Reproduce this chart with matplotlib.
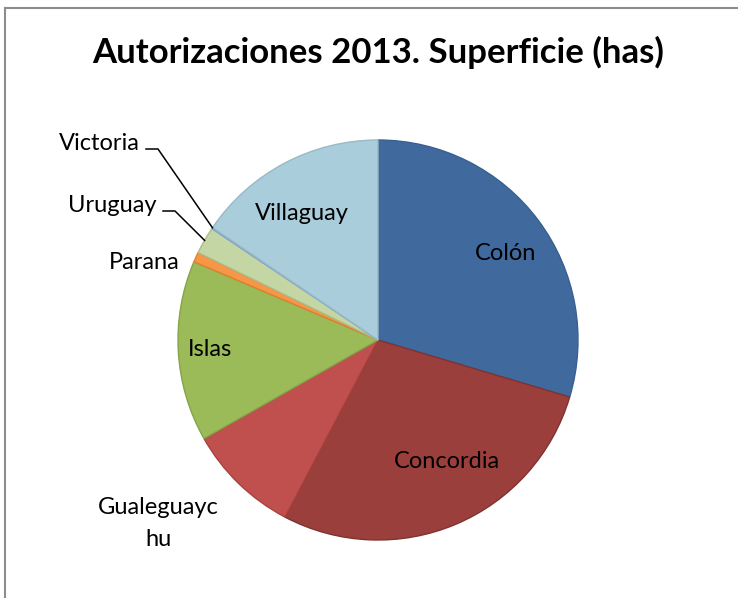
import numpy as np
import matplotlib
matplotlib.use('Agg')
from matplotlib import pyplot as plt

# share of area per department (approx)
labels = ['Colón', 'Concordia', 'Gualeguaychu', 'Islas', 'Parana',
          'Uruguay', 'Victoria', 'Villaguay']
values = [29.6, 28.1, 9.1, 14.6, 0.8, 2.2, 0.1, 15.5]
colors = ['#40699e', '#9b3f3d', '#c0504d', '#9bbb59', '#f79646',
          '#c4d6a4', '#8eb4e3', '#a9cddb']
edges = ['#38608f', '#7f3331', '#a9413f', '#86a44a', '#e07f30',
         '#aabd8a', '#7fa3cf', '#98b9c6']

plt.rcParams['font.family'] = ['Lato', 'DejaVu Sans']
FS = 17

fig = plt.figure(figsize=(7.38, 5.98), dpi=100)
ax = fig.add_axes([178 / 738, 1 - 540 / 598, 400 / 738, 400 / 598])
wedges, _ = ax.pie(values, colors=colors, startangle=90, counterclock=False,
                   radius=1, wedgeprops=dict(linewidth=1))
for w, e in zip(wedges, edges):
    w.set_edgecolor(e)
ax.set_xlim(-1, 1)
ax.set_ylim(-1, 1)
ax.set_aspect('equal')
ax.axis('off')


def mid(w):
    return np.deg2rad((w.theta1 + w.theta2) / 2)


def place(w, r, shift):
    a = mid(w) + np.deg2rad(shift)
    return r * np.cos(a), r * np.sin(a)


# labels inside the slices: (radius, angle shift)
inside = {'Colón': (0.77, -2.6), 'Concordia': (0.70, 6.6),
          'Islas': (0.84, 0), 'Villaguay': (0.74, 3)}
for w, lab in zip(wedges, labels):
    if lab in inside:
        x, y = place(w, *inside[lab])
        ax.text(x, y, lab, ha='center', va='center', fontsize=FS)

# labels outside
x, y = place(wedges[labels.index('Gualeguaychu')], 1.43, -6)
ax.text(x, y, 'Gualeguayc\nhu', ha='center', va='center', fontsize=FS,
        linespacing=1.7)
x, y = place(wedges[labels.index('Parana')], 1.23, 6)
ax.text(x, y, 'Parana', ha='center', va='center', fontsize=FS)

# leader lines
for lab, tx, ty in [('Uruguay', -1.105, 0.675), ('Victoria', -1.19, 0.985)]:
    i = labels.index(lab)
    a = np.deg2rad(wedges[i].theta2 - 0.3) if lab == 'Victoria' else mid(wedges[i])
    px, py = np.cos(a), np.sin(a)
    ax.text(tx, ty, lab, ha='right', va='center', fontsize=FS)
    ly = ty - 0.03
    ax.plot([tx + 0.03, tx + 0.09, px], [ly, ly, py],
            color='black', lw=1.1, clip_on=False)

fig.text(378 / 738, 1 - 52 / 598, 'Autorizaciones 2013. Superficie (has)',
         ha='center', va='center', fontsize=25, fontweight='bold')

# chart frame
fig.add_artist(plt.Line2D([5 / 738, 5 / 738], [0, 1 - 8 / 598],
                          color='#8c8c8c', lw=1.5))
fig.add_artist(plt.Line2D([5 / 738, 1], [1 - 8 / 598, 1 - 8 / 598],
                          color='#8c8c8c', lw=1.5))

fig.savefig('out.png', dpi=100)
